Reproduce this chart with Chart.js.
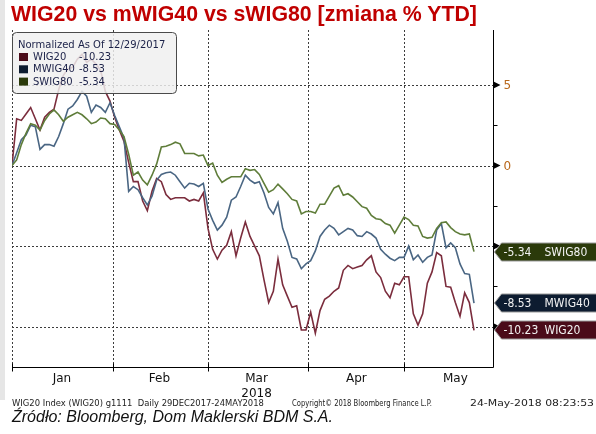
<!DOCTYPE html>
<html><head><meta charset="utf-8">
<script src="https://cdn.jsdelivr.net/npm/chart.js@4"></script>
<style>
html,body{margin:0;padding:0;background:#fff;}
#wrap{position:relative;width:596px;height:434px;overflow:hidden;background:#fff;}
#strip{position:absolute;left:0;top:0;width:5px;height:400px;background:#e6e6e6;}
#c{position:absolute;left:0;top:0;}
.t{position:absolute;white-space:pre;}
#title{left:11px;top:4px;font:bold 21.3px "Liberation Sans",Arial,sans-serif;color:#c00000;line-height:21px;}
.foot{top:399px;font:8px "DejaVu Sans",sans-serif;color:#222;line-height:10px;transform-origin:0 50%;}
#src{left:12px;top:408px;font:italic 16px "Liberation Sans",Arial,sans-serif;color:#111;line-height:17px;}
</style>
</head><body>
<div id="wrap">
<div id="strip"></div>
<canvas id="c" width="596" height="434"></canvas>
<div class="t" id="title">WIG20 vs mWIG40 vs sWIG80 [zmiana % YTD]</div>
<div class="t foot" data-w="252" style="left:12px">WIG20 Index (WIG20) g1111  Daily 29DEC2017-24MAY2018</div>
<div class="t foot" data-w="140" style="left:292px">Copyright© 2018 Bloomberg Finance L.P.</div>
<div class="t foot" data-w="124" style="left:470px">24-May-2018 08:23:53</div>
<div class="t" id="src">Źródło: Bloomberg, Dom Maklerski BDM S.A.</div>
</div>
<script>
// ---- data (normalized % change vs 29 Dec 2017, one value per trading day) ----
const seriesNames = ['WIG20', 'MWIG40', 'SWIG80'];
const wig20 = [0,2.9,2.8,3.2,3.6,2.9,2.2,3.0,3.3,3.5,
  4.7,5.6,6.0,6.1,6.6,6.9,6.4,6.6,6.3,5.9,
  4.6,4.0,3.0,2.2,1.5,0.2,-1.0,-1.0,-2.2,-2.8,
  -1.6,-0.8,-1.0,-1.8,-2.1,-2.0,-2.0,-2.0,-2.2,-2.1,
  -2.2,-1.7,-3.9,-5.2,-5.8,-5.25,-4.95,-4.1,-5.6,-4.5,
  -3.5,-4.4,-5.0,-5.6,-7.1,-8.5,-7.8,-5.8,-7.4,-8.1,
  -8.8,-8.7,-10.2,-10.2,-9.1,-10.4,-9.0,-8.3,-8.1,-7.8,
  -7.6,-6.5,-6.2,-6.4,-6.3,-6.2,-5.85,-5.6,-6.6,-6.95,
  -7.8,-8.2,-7.3,-7.4,-6.9,-6.9,-9.2,-9.9,-9.2,-7.3,
  -6.6,-5.4,-5.6,-7.5,-7.55,-8.5,-9.35,-7.9,-8.5,-10.23];
const mwig40 = [0,0.8,1.6,1.9,2.5,2.4,1.0,1.3,1.3,1.2,
  1.8,2.6,3.5,3.7,4.1,4.6,4.3,3.3,3.75,3.6,
  3.3,3.9,3.1,2.4,1.7,-1.6,-1.3,-1.5,-2.0,-2.45,
  -1.9,-0.9,-0.55,-0.45,-0.4,-0.6,-1.0,-1.4,-1.1,-1.15,
  -1.3,-1.1,-2.7,-3.4,-4.0,-3.7,-3.2,-2.15,-1.95,-1.3,
  -0.6,-0.9,-1.1,-1.0,-1.7,-2.6,-3.0,-2.3,-3.9,-4.7,
  -5.7,-5.8,-6.4,-6.1,-5.9,-5.3,-4.4,-4.0,-3.7,-3.9,
  -4.3,-4.1,-3.9,-4.0,-4.35,-4.4,-4.1,-4.25,-4.5,-5.2,
  -5.5,-5.75,-5.9,-5.7,-5.7,-5.0,-5.85,-5.55,-6.0,-5.7,
  -5.55,-4.0,-3.6,-5.1,-4.8,-5.1,-6.1,-6.7,-6.75,-8.53];
const swig80 = [0,0.35,1.3,2.0,2.6,2.5,2.2,2.8,3.2,3.45,
  3.15,2.75,3.0,3.15,3.3,3.15,2.9,2.6,2.7,2.95,
  2.9,2.6,2.55,2.2,1.8,0.7,-0.6,-0.4,-0.9,-1.2,
  -0.6,0.1,1.15,1.2,1.3,1.45,1.35,0.75,0.75,0.75,
  0.6,0.65,0.0,0.15,-0.6,-1.05,-0.85,-0.7,-0.7,-0.7,
  -0.2,-0.3,-0.25,-0.55,-1.1,-1.65,-1.5,-1.15,-1.45,-1.75,
  -2.1,-2.2,-3.0,-2.85,-2.85,-2.95,-2.4,-2.4,-1.9,-1.4,
  -1.25,-1.85,-1.75,-1.95,-2.25,-2.55,-2.65,-3.1,-3.3,-3.35,
  -3.6,-3.7,-4.2,-3.7,-3.2,-3.35,-3.7,-3.75,-4.4,-4.5,
  -4.45,-3.9,-3.55,-3.5,-3.85,-4.1,-4.25,-4.3,-4.25,-5.34];
const months = ['Jan', 'Feb', 'Mar', 'Apr', 'May'];
const monthStarts = [0, 21.6, 42.0, 63.4, 84.0];     // trading-day index of month boundaries
const monthCenters = [10.7, 31.6, 52.4, 73.8, 95.0];  // trading-day index for month labels
const yearLabel = '2018';
const yMajor = [5, 0, -5, -10];
const yMinor = [2.5, -2.5, -7.5];
const legendTitle = 'Normalized As Of 12/29/2017';

// fit footer strings to the widths they have in the source layout
document.querySelectorAll('.foot').forEach(el => {
  const w = el.getBoundingClientRect().width;
  el.style.transform = 'scaleX(' + (parseFloat(el.dataset.w) / w).toFixed(3) + ')';
});

// ---- styling ----
const lineColors = ['#7b2d3d', '#4a6683', '#5f7d3a'];
const darkColors = ['#4a0b19', '#0d1c30', '#2b3a0a'];
const FONT = '"DejaVu Sans", Verdana, sans-serif';
const CFONT = '"DejaVu Sans Condensed", "DejaVu Sans", sans-serif';
const allSeries = [wig20, mwig40, swig80];

const bbg = {
  id: 'bbg',
  beforeDatasetsDraw(chart) {
    const {ctx, chartArea: a, scales: {x, y}} = chart;
    ctx.save();
    ctx.strokeStyle = '#3c3c3c'; ctx.lineWidth = 1; ctx.setLineDash([2, 2]);
    yMajor.forEach(v => {
      const py = Math.round(y.getPixelForValue(v)) + 0.5;
      ctx.beginPath(); ctx.moveTo(a.left, py); ctx.lineTo(a.right, py); ctx.stroke();
    });
    monthStarts.forEach(v => {
      const px = Math.round(x.getPixelForValue(v)) + 0.5;
      ctx.beginPath(); ctx.moveTo(px, a.top); ctx.lineTo(px, a.bottom); ctx.stroke();
    });
    ctx.restore();
  },
  afterDatasetsDraw(chart) {
    const {ctx, chartArea: a, scales: {x, y}} = chart;
    ctx.save();
    ctx.setLineDash([]);
    // axes
    ctx.strokeStyle = '#000'; ctx.lineWidth = 1;
    const ax = Math.round(a.right) + 0.5, by = Math.round(a.bottom) + 0.5;
    ctx.beginPath(); ctx.moveTo(ax, a.top); ctx.lineTo(ax, by); ctx.stroke();
    ctx.beginPath(); ctx.moveTo(a.left, by); ctx.lineTo(ax, by); ctx.stroke();
    monthStarts.forEach(v => {
      const px = Math.round(x.getPixelForValue(v)) + 0.5;
      ctx.beginPath(); ctx.moveTo(px, by - 4); ctx.lineTo(px, by + 4); ctx.stroke();
    });
    ctx.fillStyle = '#111'; ctx.font = '12px ' + FONT; ctx.textAlign = 'center'; ctx.textBaseline = 'middle';
    months.forEach((m, i) => ctx.fillText(m, x.getPixelForValue(monthCenters[i]), by + 11));
    ctx.fillText(yearLabel, x.getPixelForValue(monthCenters[2]), by + 26);
    // right axis ticks
    yMinor.forEach(v => {
      const py = Math.round(y.getPixelForValue(v)) + 0.5;
      ctx.beginPath(); ctx.moveTo(ax, py); ctx.lineTo(ax + 4, py); ctx.stroke();
    });
    const tagY = allSeries.map(s => y.getPixelForValue(s[s.length - 1]));
    yMajor.forEach(v => {
      const py = y.getPixelForValue(v);
      ctx.fillStyle = '#000';
      ctx.beginPath(); ctx.moveTo(ax, py - 3.5); ctx.lineTo(ax + 7, py); ctx.lineTo(ax, py + 3.5); ctx.closePath(); ctx.fill();
      if (tagY.some(t => Math.abs(t - py) < 12)) return;
      ctx.fillStyle = '#b8671a'; ctx.font = '12px ' + FONT; ctx.textAlign = 'left';
      ctx.fillText(String(v), ax + 10, py + 1);
    });
    // end-value tags
    allSeries.forEach((s, i) => {
      const py = Math.round(tagY[i]);
      ctx.beginPath();
      ctx.moveTo(ax + 1, py); ctx.lineTo(ax + 8, py - 9); ctx.lineTo(600, py - 9);
      ctx.lineTo(600, py + 9); ctx.lineTo(ax + 8, py + 9); ctx.closePath();
      ctx.fillStyle = darkColors[i]; ctx.fill();
      ctx.strokeStyle = '#9a9a9a'; ctx.stroke();
      ctx.fillStyle = '#f2f2f2'; ctx.font = '12px ' + CFONT; ctx.textAlign = 'left'; ctx.textBaseline = 'middle';
      ctx.fillText(s[s.length - 1].toFixed(2), ax + 10, py + 1);
      ctx.fillText(seriesNames[i], ax + 51, py + 1);
    });
    // legend box
    const lx = 12.5, ly = 32.5, lw = 164, lh = 61, r = 4;
    ctx.beginPath();
    ctx.moveTo(lx + r, ly); ctx.lineTo(lx + lw - r, ly); ctx.quadraticCurveTo(lx + lw, ly, lx + lw, ly + r);
    ctx.lineTo(lx + lw, ly + lh - r); ctx.quadraticCurveTo(lx + lw, ly + lh, lx + lw - r, ly + lh);
    ctx.lineTo(lx + r, ly + lh); ctx.quadraticCurveTo(lx, ly + lh, lx, ly + lh - r);
    ctx.lineTo(lx, ly + r); ctx.quadraticCurveTo(lx, ly, lx + r, ly); ctx.closePath();
    ctx.fillStyle = 'rgba(240,240,240,0.84)'; ctx.fill();
    ctx.strokeStyle = '#4a4a4a'; ctx.lineWidth = 1; ctx.stroke();
    ctx.fillStyle = '#1b2148'; ctx.font = '10px ' + FONT; ctx.textAlign = 'left'; ctx.textBaseline = 'middle';
    ctx.fillText(legendTitle, 18, 45);
    allSeries.forEach((s, i) => {
      const cy = 57 + i * 12.3;
      ctx.fillStyle = darkColors[i]; ctx.fillRect(19, cy - 4, 9, 8);
      ctx.fillStyle = '#1b2148';
      ctx.fillText(seriesNames[i], 33, cy + 0.5);
      ctx.fillText(s[s.length - 1].toFixed(2), 79, cy + 0.5);
    });
    ctx.restore();
  }
};

const mk = (arr, i) => ({
  label: seriesNames[i],
  data: arr.map((v, k) => ({x: k, y: v})),
  borderColor: lineColors[i], borderWidth: 1.6, pointRadius: 0, tension: 0, fill: false
});

new Chart(document.getElementById('c'), {
  type: 'line',
  data: {datasets: [mk(swig80, 2), mk(mwig40, 1), mk(wig20, 0)]},
  options: {
    responsive: false, animation: false, devicePixelRatio: 1,
    layout: {padding: {left: 12, right: 103, top: 30, bottom: 67}},
    plugins: {legend: {display: false}, tooltip: {enabled: false}},
    scales: {
      x: {type: 'linear', min: 0, max: 103.07, display: false},
      y: {type: 'linear', min: -12.5, max: 8.41, display: false}
    }
  },
  plugins: [bbg]
});
</script>
</body></html>
